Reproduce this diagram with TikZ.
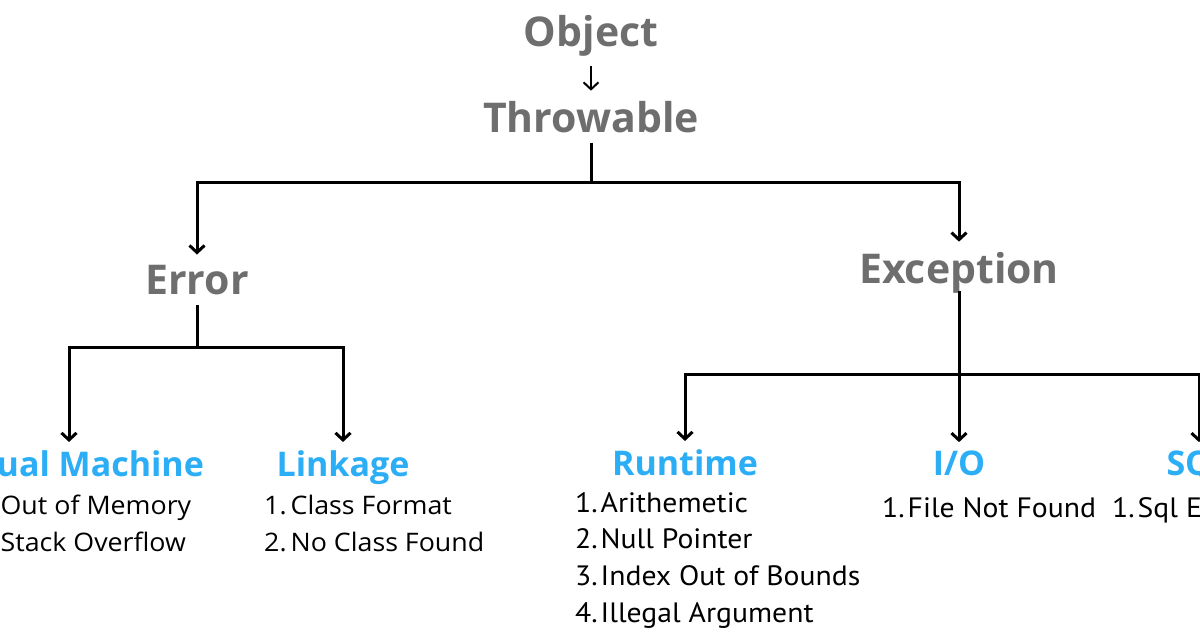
\documentclass[tikz,border=0pt]{standalone}
\usepackage{fontspec}
\setmainfont{Open Sans}
\newfontfamily\wideFont[FakeStretch=1.05]{Open Sans}
\newfontfamily\condfont[FakeStretch=1.06]{PT Sans}
\usetikzlibrary{arrows.meta}
\definecolor{headgray}{RGB}{110,110,110}
\definecolor{subblue}{RGB}{43,174,245}
\begin{document}
\begin{tikzpicture}[x=1pt,y=-1pt,
  top/.style={font=\fontsize{41}{48}\selectfont\bfseries, text=headgray, inner sep=10pt, anchor=base},
  sub/.style={font=\fontsize{34}{40}\selectfont\bfseries, text=subblue, inner sep=8pt, anchor=base},
  itemL/.style={font=\wideFont\fontsize{25.5}{30}\selectfont, anchor=base west, inner sep=0pt},
  itemR/.style={font=\condfont\fontsize{28}{32}\selectfont, anchor=base west, inner sep=0pt},
  link/.style={line width=3pt},
  arr/.style={link, -{Straight Barb[length=7pt,width=15pt]}}]
\useasboundingbox[fill=white] (0,0) rectangle (1200,632);

% top level
\node[top] (obj) at (591,46) {Object};
\node[top] (thr) at (591,132) {Throwable};
\node[top] (err) at (197,294) {Error};
\node[top] (exc) at (959,283) {Exception};

% second level
\node[sub] (vm) at (69,476) {Virtual Machine};
\node[sub] (lnk) at (343,476) {Linkage};
\node[sub] (rt) at (685,475) {Runtime};
\node[sub] (io) at (959,475) {I/O};
\node[sub] (sql) at (1199,475) {SQL};

% lists
\node[itemL] (vm1) at (-26,514) {1.\hspace{4pt}Out of Memory};
\node[itemL] (vm2) at (-26,551) {2.\hspace{4pt}Stack Overflow};
\node[itemL] (lk1) at (264,514) {1.\hspace{4pt}Class Format};
\node[itemL] (lk2) at (264,551) {2.\hspace{4pt}No Class Found};

\node[itemR] (rt1) at (575,512) {1.\hspace{3pt}Arithemetic};
\node[itemR] (rt2) at (575,548) {2.\hspace{3pt}Null Pointer};
\node[itemR] (rt3) at (575,585) {3.\hspace{3pt}Index Out of Bounds};
\node[itemR] (rt4) at (575,622) {4.\hspace{3pt}Illegal Argument};
\node[itemR] (io1) at (882,517) {1.\hspace{3pt}File Not Found};
\node[itemR] (sq1) at (1112,517) {1.\hspace{3pt}Sql Exception};

% junctions
\coordinate (jt) at (591,182);
\coordinate (je) at (197,347);
\coordinate (jx) at (959,374);

% connectors
\draw[arr, line width=2pt] (obj.south) -- (thr.north);
\draw[arr] (thr.south) -- (jt) -| (err.north);
\draw[arr] (jt) -| (exc.north);
\draw[arr] (err.south) -- (je) -| (vm.north);
\draw[arr] (je) -| (lnk.north);
\draw[link] ([yshift=-8pt]exc.base) -- (jx);
\draw[arr] (jx) -- (io.north);
\draw[arr] (jx) -| (rt.north);
\draw[arr] (jx) -| (sql.north);
\end{tikzpicture}
\end{document}
